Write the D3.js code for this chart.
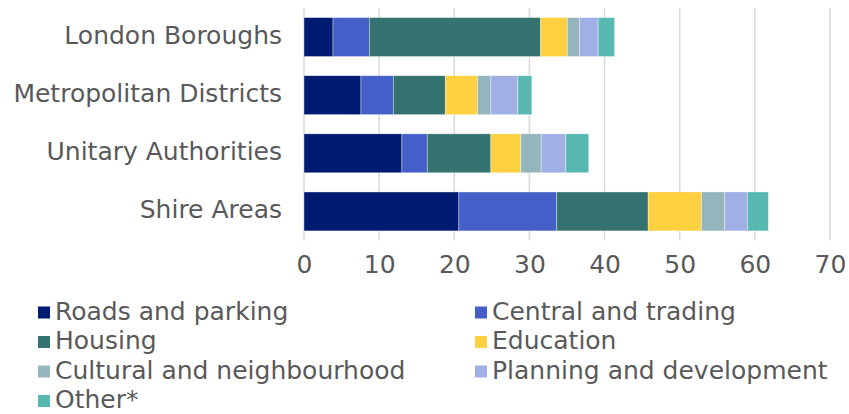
<!DOCTYPE html>
<html><head><meta charset="utf-8">
<script src="https://cdn.jsdelivr.net/npm/d3@7"></script>
<style>body{margin:0;background:#fff;} svg{display:block;}</style>
</head><body>
<svg id="c" width="849" height="414"></svg>
<script>
const categories = ["London Boroughs","Metropolitan Districts","Unitary Authorities","Shire Areas"];
const seriesNames = ["Roads and parking","Central and trading","Housing","Education","Cultural and neighbourhood","Planning and development","Other*"];
const roads     = [3.86, 7.58, 13.03, 20.61];
const central   = [4.83, 4.30, 3.37, 13.03];
const housing   = [22.8, 6.92, 8.47, 12.16];
const education = [3.55, 4.30, 3.99, 7.10];
const cultural  = [1.60, 1.77, 2.70, 3.10];
const planning  = [2.50, 3.59, 3.28, 3.00];
const other     = [2.20, 1.86, 3.06, 2.80];
const xTicks = [0,10,20,30,40,50,60,70];
const colors = ["#001c70","#4460c8","#347370","#ffd03f","#93b5bb","#a0afe5","#58b8b2"];

const seriesValues = [roads, central, housing, education, cultural, planning, other];
const rows = categories.map((c,i)=>{const o={cat:c}; seriesNames.forEach((s,j)=>o[s]=seriesValues[j][i]); return o;});
const stack = d3.stack().keys(seriesNames)(rows);

const svg = d3.select("#c");
const font = "DejaVu Sans";
const textColor = "#595959";
const x = d3.scaleLinear().domain([0,70]).range([304,830]);
const y = d3.scaleBand().domain(categories).range([8,240.5]).paddingInner(0.33).paddingOuter(0.165);

// gridlines
svg.append("g").selectAll("line").data(xTicks).join("line")
  .attr("x1",d=>x(d)).attr("x2",d=>x(d)).attr("y1",8).attr("y2",240.5)
  .attr("stroke","#d9d9d9").attr("stroke-width",1.5);

// bars
svg.append("g").selectAll("g").data(stack).join("g")
  .attr("fill",(d,i)=>colors[i])
  .selectAll("rect").data(d=>d).join("rect")
  .attr("x",d=>x(d[0])).attr("width",d=>x(d[1])-x(d[0]))
  .attr("y",d=>y(d.data.cat)).attr("height",y.bandwidth())
  .attr("stroke","#ffffff").attr("stroke-width",0.6).attr("stroke-opacity",0.6);

// x axis
const xa = svg.append("g").attr("transform","translate(0,240.5)")
  .call(d3.axisBottom(x).tickValues(xTicks).tickSize(0).tickPadding(0));
xa.select(".domain").remove();
xa.selectAll("text").attr("font-family",font).attr("font-size",25).attr("fill",textColor)
  .attr("dy",null).attr("y",32.5);

// y axis labels
const ya = svg.append("g").attr("transform","translate(282,0)")
  .call(d3.axisLeft(y).tickSize(0).tickPadding(0));
ya.select(".domain").remove();
ya.selectAll("text").attr("font-family",font).attr("font-size",25).attr("fill",textColor)
  .attr("dy",null).attr("y",6.5);

// legend
const legendCols = [38, 475];
const legendBase = 319.5, legendStep = 29.5;
const lg = svg.append("g").selectAll("g").data(seriesNames).join("g")
  .attr("transform",(d,i)=>`translate(${legendCols[i%2]},${legendBase + Math.floor(i/2)*legendStep})`);
lg.append("rect").attr("x",0).attr("y",-13).attr("width",12).attr("height",12).attr("fill",(d,i)=>colors[i]);
lg.append("text").attr("x",17).attr("y",0).text(d=>d)
  .attr("font-family",font).attr("font-size",25).attr("fill",textColor);
</script>
</body></html>
